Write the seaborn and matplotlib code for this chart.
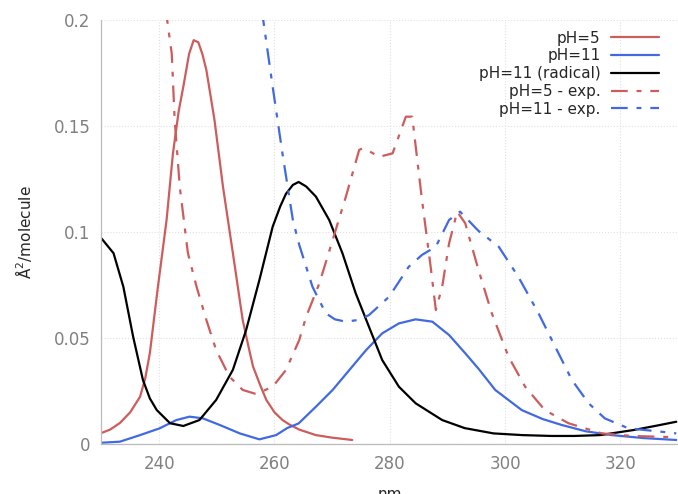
import numpy as np
import pandas as pd
import seaborn as sns
import matplotlib.pyplot as plt
from matplotlib.ticker import FuncFormatter

# values (wavelength in nm, cross section)
ph5_x = [230, 231.5, 233.2, 235, 236.7, 237.6, 238.4, 239.8, 241.3, 242.4, 243.4, 244.2, 245.2, 246, 246.8, 247.5, 248.2, 249.6,
         251.1, 252.8, 254.5, 255.5, 256.3, 257.5, 258.6, 260, 261.4, 262.6, 264.3, 267.2, 270, 273.5]
ph5_y = [0.0052, 0.0068, 0.0099, 0.015, 0.0223, 0.031, 0.0429, 0.0742, 0.1057, 0.137, 0.157, 0.1685, 0.184, 0.1905, 0.1895, 0.184,
         0.1764, 0.153, 0.121, 0.09, 0.0585, 0.046, 0.0365, 0.028, 0.0208, 0.015, 0.0113, 0.0092, 0.0068, 0.0042, 0.003, 0.0019]

ph11_x = [230, 233.2, 236.7, 240.1, 243, 245.3, 247.6, 250.5, 254, 257.4, 260.3, 262.2, 264.2, 267.2, 270.1, 273, 275.9, 278.7,
          281.6, 284.5, 287.4, 290.3, 293.1, 295.4, 298.3, 302.9, 306.5, 309.8, 314, 318.5, 324, 329.7]
ph11_y = [0.0006, 0.0011, 0.0042, 0.0074, 0.0113, 0.0129, 0.0121, 0.009, 0.005, 0.0022, 0.0042, 0.0075, 0.0097, 0.0176, 0.0255,
          0.0349, 0.0443, 0.0522, 0.0569, 0.0588, 0.0577, 0.0514, 0.0428, 0.0355, 0.0255, 0.016, 0.0118, 0.009, 0.006, 0.0042,
          0.0028, 0.0019]

rad_x = [230, 232.1, 233.8, 235.5, 237.2, 238.4, 239.6, 241.9, 244.2, 247, 249.9, 252.8, 255.1, 257.4, 259.7, 261, 262, 263.2, 264.2,
         265.5, 267.2, 269.5, 271.8, 274.1, 276.4, 278.7, 281.6, 284.5, 289.1, 293, 298, 303, 308, 312, 316.5, 322.3, 326, 329.7]
rad_y = [0.097, 0.09, 0.0742, 0.0506, 0.0302, 0.0215, 0.016, 0.0098, 0.0085, 0.0113, 0.0208, 0.035, 0.0538, 0.0774, 0.1025, 0.112,
         0.118, 0.1222, 0.1236, 0.1215, 0.1167, 0.1057, 0.09, 0.0711, 0.0553, 0.0396, 0.027, 0.0192, 0.0113, 0.0075, 0.005, 0.0042,
         0.0038, 0.0038, 0.0042, 0.0066, 0.0085, 0.0105]

ph5exp_x = [241.1, 242.2, 242.7, 243.6, 245, 246.5, 248.2, 249.9, 252.2, 254.5, 256.8, 259.7, 262, 264.3, 265.5, 267.8, 270.1,
            272.4, 274.7, 275.3, 276.5, 278.2, 280.5, 282.8, 283.9, 285.6, 287.1, 288, 289.1, 290.3, 291.7, 293.1, 295.4, 297.7,
            300.6, 303.5, 306.9, 311, 316.8, 322, 329.7]
ph5exp_y = [0.206, 0.184, 0.153, 0.121, 0.09, 0.0742, 0.0585, 0.0443, 0.0318, 0.0255, 0.0236, 0.027, 0.0349, 0.049, 0.06, 0.0758,
            0.0962, 0.1167, 0.1387, 0.1395, 0.138, 0.1355, 0.1371, 0.1544, 0.1544, 0.1151, 0.0836, 0.0632, 0.0742, 0.0947, 0.1096,
            0.1041, 0.0821, 0.0617, 0.0412, 0.027, 0.016, 0.0098, 0.005, 0.0038, 0.0032]

ph11exp_x = [257.8, 259.7, 261.4, 263.2, 264.3, 266.6, 268.9, 270.5, 272.4, 274.5, 276.4, 279.9, 283.3, 285.6, 288, 290.3, 292.2,
             295.4, 298.9, 302.3, 305.8, 308.7, 311.6, 314.5, 317.3, 321.4, 327.1, 329.7]
ph11exp_y = [0.205, 0.1685, 0.137, 0.1057, 0.094, 0.0742, 0.0617, 0.0588, 0.0577, 0.0585, 0.0608, 0.0695, 0.0836, 0.0892, 0.0931,
             0.1057, 0.1096, 0.1005, 0.0931, 0.0789, 0.0617, 0.0459, 0.0302, 0.0192, 0.0121, 0.0074, 0.0058, 0.005]

RED = '#cd5c5c'
BLUE = '#4169e1'
DASHDOT = (0, (7.5, 4, 2.2, 4))

sns.set_style('white')

fig = plt.figure(figsize=(6.78, 4.94), dpi=100)
ax = fig.add_axes([0.1496, 0.1012, 0.8504, 0.8583])

series = [
    (ph5_x, ph5_y, 'pH=5', RED, '-'),
    (ph11_x, ph11_y, 'pH=11', BLUE, '-'),
    (rad_x, rad_y, 'pH=11 (radical)', 'black', '-'),
    (ph5exp_x, ph5exp_y, 'pH=5 - exp.', RED, DASHDOT),
    (ph11exp_x, ph11exp_y, 'pH=11 - exp.', BLUE, DASHDOT),
]
for xs, ys, label, color, ls in series:
    sns.lineplot(x=xs, y=ys, ax=ax, color=color, linewidth=1.6, label=label)
    ax.lines[-1].set_linestyle(ls)

ax.set_xlim(230, 330)
ax.set_ylim(0, 0.2)
ax.set_xticks([240, 260, 280, 300, 320])
ax.set_yticks([0, 0.05, 0.1, 0.15, 0.2])
ax.yaxis.set_major_formatter(FuncFormatter(lambda v, p: f'{v:g}'))

ax.grid(True, linestyle=':', color='#e0e0e0', linewidth=0.8)
for side in ['top', 'right']:
    ax.spines[side].set_visible(False)
for side in ['left', 'bottom']:
    ax.spines[side].set_color('#bbbbbb')
    ax.spines[side].set_linewidth(0.9)
ax.tick_params(direction='in', length=5, width=0.8, color='#cccccc',
               labelcolor='#808080', labelsize=12, pad=8)

ax.set_xlabel('nm', fontsize=11, labelpad=10)
ax.set_ylabel('Å$^2$/molecule', fontsize=11, labelpad=14)

ax.legend(loc='upper right', frameon=False, markerfirst=False, fontsize=11,
          handlelength=3.1, handletextpad=0.7, labelspacing=0.18,
          borderaxespad=0.3, bbox_to_anchor=(0.985, 1.0))

fig.savefig('out.png', dpi=100)
